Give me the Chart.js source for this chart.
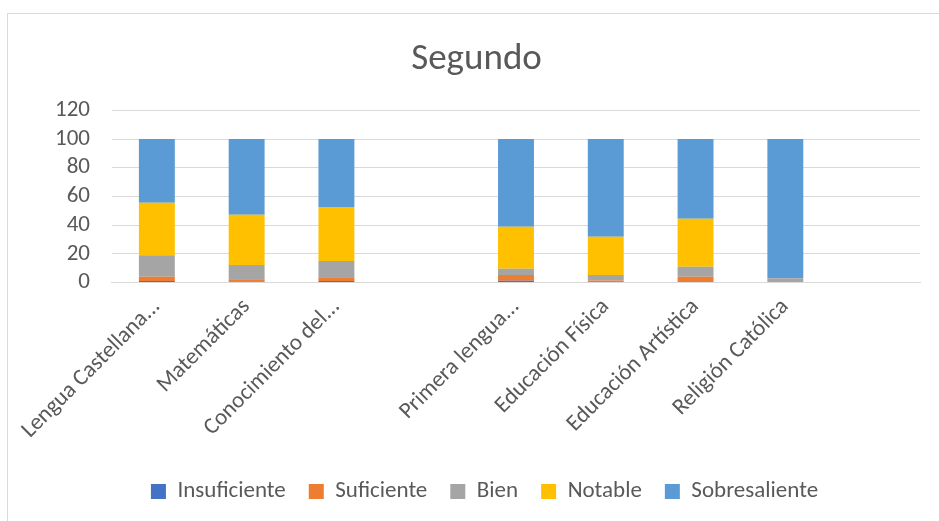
<!DOCTYPE html>
<html>
<head>
<meta charset="utf-8">
<script src="https://cdn.jsdelivr.net/npm/chart.js@4"></script>
<style>
    html, body { margin: 0; padding: 0; background: #fff; }
    #frame {
        position: absolute; left: 7px; top: 13px; right: -5px; bottom: -5px;
        border-top: 1.5px solid #d9d9d9; border-left: 1.5px solid #d9d9d9;
    }
    #wrap { position: absolute; left: 0; top: 0; width: 939px; height: 521px; }
</style>
</head>
<body>
<div id="frame"></div>
<div id="wrap"><canvas id="chart"></canvas></div>
<script>
// Datos
const materias = ['Lengua Castellana...', 'Matemáticas', 'Conocimiento del...', '', 'Primera lengua...', 'Educación Física', 'Educación Artística', 'Religión Católica', ''];
const insuficiente  = [1,    0.7,  1,    null, 1.2,  0,    0,    0,  null];
const suficiente    = [3,    1.5,  2.7,  null, 4,    1.4,  4,    0,  null];
const bien          = [15,   10,   11.3, null, 4.4,  3.8,  7,    3,  null];
const notable       = [36.5, 35,   37.7, null, 29.3, 26.7, 33.5, 0,  null];
const sobresaliente = [44.5, 52.8, 47.3, null, 61.1, 68.1, 55.5, 97, null];
const ticksY = [0, 20, 40, 60, 80, 100, 120];

const fuente = "Carlito, Lato, 'Noto Sans', sans-serif";
const gris = '#595959';

function serie(label, data, color) {
    return {
        label: label,
        data: data,
        backgroundColor: color,
        borderWidth: 0,
        barPercentage: 0.4,
        categoryPercentage: 1
    };
}

// La leyenda del original está un poco desplazada a la derecha
const moverLeyenda = {
    id: 'moverLeyenda',
    afterLayout(chart) {
        chart.legend.left += 8;
        chart.legend.right += 8;
    }
};

const ctx = document.getElementById('chart').getContext('2d');
new Chart(ctx, {
    type: 'bar',
    data: {
        labels: materias,
        datasets: [
            serie('Insuficiente', insuficiente, '#4472C4'),
            serie('Suficiente', suficiente, '#ED7D31'),
            serie('Bien', bien, '#A5A5A5'),
            serie('Notable', notable, '#FFC000'),
            serie('Sobresaliente', sobresaliente, '#5B9BD5')
        ]
    },
    plugins: [moverLeyenda],
    options: {
        responsive: true,
        maintainAspectRatio: false,
        animation: false,
        layout: { padding: { top: 38, right: 19, left: 33, bottom: 8 } },
        scales: {
            x: {
                stacked: true,
                grid: { display: false },
                border: { color: '#d9d9d9', width: 1 },
                afterFit: scale => { scale.height += 10; },
                ticks: {
                    autoSkip: false,
                    maxRotation: 45,
                    minRotation: 45,
                    padding: 3,
                    color: gris,
                    font: { family: fuente, size: 23 }
                }
            },
            y: {
                stacked: true,
                min: 0,
                max: 120,
                afterBuildTicks: axis => { axis.ticks = ticksY.map(v => ({ value: v })); },
                grid: { color: '#d9d9d9', drawTicks: false },
                border: { display: false },
                ticks: {
                    autoSkip: false,
                    padding: 22,
                    color: gris,
                    font: { family: fuente, size: 23 }
                }
            }
        },
        plugins: {
            title: {
                display: true,
                text: 'Segundo',
                color: gris,
                font: { family: fuente, size: 37, weight: 'normal' },
                padding: { top: 0, bottom: 28 }
            },
            legend: {
                position: 'bottom',
                labels: {
                    boxWidth: 15,
                    boxHeight: 15,
                    padding: 23,
                    color: gris,
                    font: { family: fuente, size: 23 }
                }
            },
            tooltip: { enabled: false }
        }
    }
});
</script>
</body>
</html>
